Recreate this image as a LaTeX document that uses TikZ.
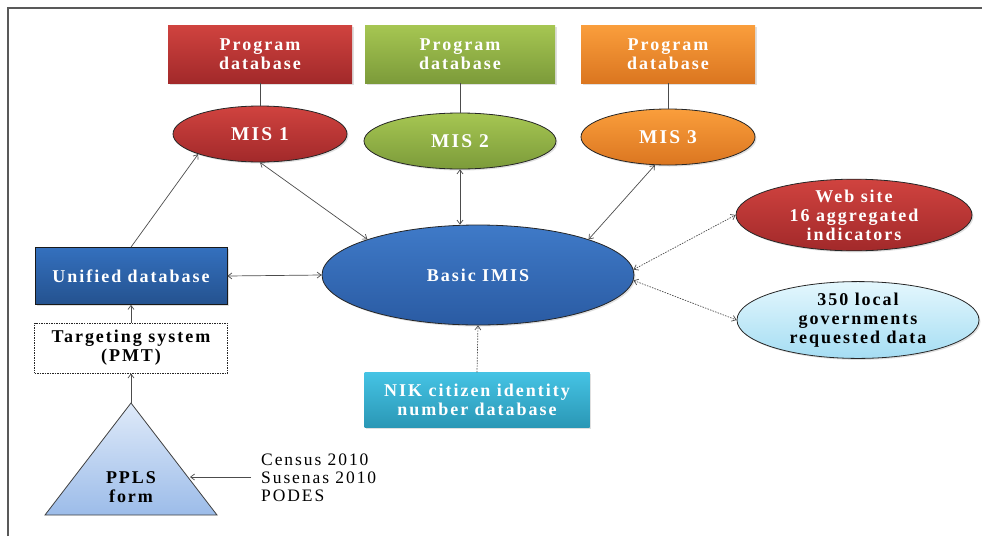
\documentclass[tikz,border=0pt]{standalone}
\usepackage{fontspec}
\setmainfont{Liberation Serif}[LetterSpace=11]
\usetikzlibrary{arrows.meta,shapes.geometric,shadows}

\definecolor{redtop}{HTML}{D0433F}
\definecolor{redbot}{HTML}{A2292A}
\definecolor{greentop}{HTML}{A6C652}
\definecolor{greenbot}{HTML}{7C9B3A}
\definecolor{orangetop}{HTML}{FA9E3C}
\definecolor{orangebot}{HTML}{DB7620}
\definecolor{bluetop}{HTML}{3F7AC8}
\definecolor{bluebot}{HTML}{2A5BA3}
\definecolor{navytop}{HTML}{3470BE}
\definecolor{navybot}{HTML}{24528F}
\definecolor{tealtop}{HTML}{45C3E4}
\definecolor{tealbot}{HTML}{2A97B5}
\definecolor{skytop}{HTML}{E4F7FD}
\definecolor{skybot}{HTML}{A5DDF3}
\definecolor{paletop}{HTML}{DFEAF9}
\definecolor{palebot}{HTML}{9CBCE9}

\begin{document}
\begin{tikzpicture}[x=1pt,y=-1pt,
  every node/.style={font=\fontsize{18}{19}\selectfont\bfseries, align=center, inner sep=0pt},
  softshadow/.style={drop shadow={opacity=0.25, shadow xshift=1.5pt, shadow yshift=-1.5pt}},
  dbbox/.style={rectangle, minimum height=58, text=white, softshadow},
  misell/.style={ellipse, draw=black!85, line width=0.8pt, minimum height=56, text=white, softshadow,
                 font=\fontsize{19.5}{20}\selectfont\bfseries},
  outell/.style={ellipse, draw=black!85, line width=0.8pt, minimum width=236, minimum height=66, softshadow},
  barb/.tip={Straight Barb[length=4pt,width=6pt]},
  link/.style={draw=black!70, line width=0.7pt},
  duplex/.style={link, barb-barb},
  oneway/.style={link, -barb},
  dotlink/.style={link, dash pattern=on 1.5pt off 1.2pt}
]
\useasboundingbox (0,0) rectangle (982,536);

% page frame
\draw[black!65, line width=1.2pt] (8,536) -- (8,8) -- (982,8);

% program databases
\node[dbbox, minimum width=184, top color=redtop, bottom color=redbot] (pdb1) at (260,54) {Program\\database};
\node[dbbox, minimum width=190, top color=greentop, bottom color=greenbot] (pdb2) at (460,54) {Program\\database};
\node[dbbox, minimum width=174, top color=orangetop, bottom color=orangebot] (pdb3) at (668,54) {Program\\database};

% management information systems
\node[misell, minimum width=174, top color=redtop, bottom color=redbot] (mis1) at (260,134) {MIS 1};
\node[misell, minimum width=192, top color=greentop, bottom color=greenbot] (mis2) at (460,141) {MIS 2};
\node[misell, minimum width=174, top color=orangetop, bottom color=orangebot] (mis3) at (668,137) {MIS 3};

% central system
\node[ellipse, draw=black!85, line width=0.8pt, minimum width=312, minimum height=100,
      top color=bluetop, bottom color=bluebot, text=white, softshadow] (imis) at (478,275) {Basic IMIS};

% left column
\node[rectangle, draw=black!90, line width=0.8pt, minimum width=192, minimum height=57,
      top color=navytop, bottom color=navybot, text=white, softshadow] (unified) at (131,276) {Unified database};
\node[rectangle, draw=black!85, line width=0.9pt, dash pattern=on 1.5pt off 1pt,
      minimum width=193, minimum height=50, fill=white] (targeting) at (131,348) {Targeting system\\(PMT)};

% PPLS form triangle
\coordinate (apex) at (131,403);
\coordinate (baseL) at (45,515);
\coordinate (baseR) at (217,515);
\coordinate (sideR) at (190,477);
\shade[top color=paletop, bottom color=palebot, draw=black!75, line width=0.8pt] (apex) -- (baseL) -- (baseR) -- cycle;
\node (ppls) at (131,487) {PPLS\\form};

% survey sources
\node[anchor=west, align=left, font=\fontsize{17.5}{18}\selectfont] (census) at (261,478) {Census 2010\\Susenas 2010\\PODES};

% identity database
\node[rectangle, minimum width=225, minimum height=55, top color=tealtop, bottom color=tealbot,
      text=white, softshadow] (nik) at (477,400) {NIK citizen identity\\number database};

% outputs
\node[outell, top color=redtop, bottom color=redbot, text=white] (web) at (854,215) {Web site\\16 aggregated\\indicators};
\node[outell, minimum width=242, top color=skytop, bottom color=skybot] (local) at (858,320) {350 local\\governments\\requested data};

% connectors
\draw[link] (pdb1.south) -- (mis1.north);
\draw[link] (pdb2.south) -- (mis2.north);
\draw[link] (pdb3.south) -- (mis3.north);

\draw[oneway] (unified.north) -- (mis1.south west);
\draw[duplex] (mis1.south) -- (imis.north west);
\draw[duplex] (mis2.south) -- (imis.north -| mis2.south);
\draw[duplex] (mis3.245) -- (imis.north east);
\draw[duplex] (unified.east) -- (imis.west);

\draw[dotlink, barb-barb] (imis.2) -- (web.west);
\draw[dotlink, barb-barb] (imis.-2) -- (local.west);
\draw[dotlink, -barb] (nik.north) -- (imis.south);

\draw[oneway] (targeting.north) -- (unified.south);
\draw[oneway] (apex) -- (targeting.south);
\draw[oneway, shorten <=10pt] (census.west |- sideR) -- (sideR);
\end{tikzpicture}
\end{document}
